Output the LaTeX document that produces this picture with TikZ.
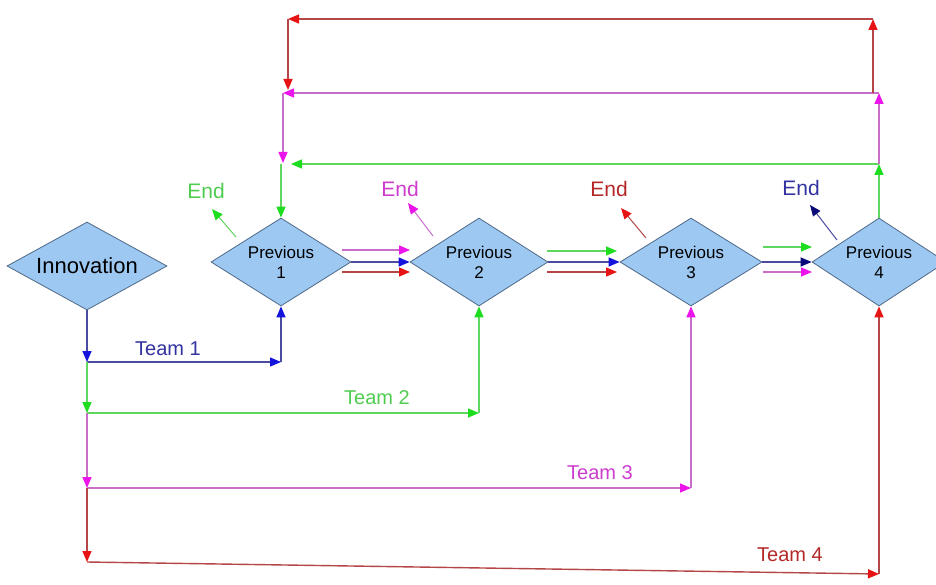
\documentclass[tikz,border=0pt]{standalone}
\usepackage{fontspec}
\setmainfont{Liberation Sans}
\usetikzlibrary{shapes.geometric,arrows.meta,calc}
\definecolor{diafill}{RGB}{156,200,242}
\definecolor{diaborder}{RGB}{80,105,135}
\definecolor{lgreen}{RGB}{95,215,95}
\definecolor{tgreen}{RGB}{30,220,30}
\definecolor{xgreen}{RGB}{80,205,80}
\definecolor{lmag}{RGB}{200,110,200}
\definecolor{tmag}{RGB}{235,20,235}
\definecolor{xmag}{RGB}{205,60,205}
\definecolor{lred}{RGB}{180,70,70}
\definecolor{tred}{RGB}{230,20,20}
\definecolor{xred}{RGB}{180,40,40}
\definecolor{lblue}{RGB}{75,75,160}
\definecolor{tblue}{RGB}{20,20,220}
\definecolor{xblue}{RGB}{50,50,160}
\definecolor{tnavy}{RGB}{10,10,120}
\tikzset{
  dia/.style={diamond, shape aspect=1.6, draw=diaborder, fill=diafill, line width=0.8pt, inner sep=0pt,
    minimum width=140pt, minimum height=88pt, align=center,
    font=\fontsize{17}{20}\selectfont},
  gl/.style={draw=lgreen, line width=1.4pt, -{Triangle[length=11pt,width=9pt,color=tgreen]}},
  ml/.style={draw=lmag, line width=1.4pt, -{Triangle[length=11pt,width=9pt,color=tmag]}},
  rl/.style={draw=lred, line width=1.4pt, -{Triangle[length=11pt,width=9pt,color=tred]}},
  bl/.style={draw=lblue, line width=1.4pt, -{Triangle[length=11pt,width=9pt,color=tblue]}},
  nl/.style={draw=lblue, line width=1.4pt, -{Triangle[length=11pt,width=9pt,color=tnavy]}},
  teamlbl/.style={font=\fontsize{20}{22}\selectfont, inner sep=0pt},
  endlbl/.style={font=\fontsize{21}{23}\selectfont, inner sep=0pt},
}
\begin{document}
\begin{tikzpicture}[x=1pt,y=-1pt]
\useasboundingbox (0,0) rectangle (936,585);
\clip (0,0) rectangle (936,585);
\fill[white] (0,0) rectangle (936,585);

% diamonds
\node[dia, shape aspect=1.8, minimum width=160pt, font=\fontsize{22}{24}\selectfont] (Inn) at (87,266) {Innovation};
\node[dia] (P1) at (281,262) {Previous\\1};
\node[dia, minimum width=138pt] (P2) at (479,262) {Previous\\2};
\node[dia, minimum width=142pt] (P3) at (691,262) {Previous\\3};
\node[dia, minimum width=134pt] (P4) at (879,262) {Previous\\4};

% team labels
\node[teamlbl, text=xblue] (T1) at (168,349) {Team 1};
\node[teamlbl, text=xgreen] (T2) at (377,398) {Team 2};
\node[teamlbl, text=xmag] (T3) at (600,473) {Team 3};
\node[teamlbl, text=xred] (T4) at (790,555) {Team 4};

% end labels
\node[endlbl, text=xgreen] (E1) at (206,191) {End};
\node[endlbl, text=xmag] (E2) at (400,189) {End};
\node[endlbl, text=xred] (E3) at (609,189) {End};
\node[endlbl, text=xblue] (E4) at (801,188) {End};

% junctions
\coordinate (j1) at (87,362);
\coordinate (j2) at (87,413);
\coordinate (j3) at (87,488);
\coordinate (j4) at (87,562);
\coordinate (c1) at (P1.south |- 0,362);
\coordinate (c2) at (P2.south |- 0,413);
\coordinate (c3) at (P3.south |- 0,488);
\coordinate (c4) at (P4.south |- 0,574);

% team flows
\draw[bl] (Inn.south) -- (j1);
\draw[bl] (j1) -- (c1);
\draw[bl] (c1) -- (P1.south);
\draw[gl] (j1) -- (j2);
\draw[gl] (j2) -- (c2);
\draw[gl] (c2) -- (P2.south);
\draw[ml] (j2) -- (j3);
\draw[ml] (j3) -- (c3);
\draw[ml] (c3) -- (P3.south);
\draw[rl] (j3) -- (j4);
\draw[rl] (j4) -- (c4);
\draw[rl] (c4) -- (P4.south);

% feedback loops
\coordinate (g1) at (P4.north |- 0,164);
\coordinate (g2) at (P1.north |- 0,164);
\coordinate (m1) at (P4.north |- 0,93);
\coordinate (m2) at (283,93);
\coordinate (m3) at (283,164);
\coordinate (r0) at (873,93);
\coordinate (r1) at (873,19);
\coordinate (r2) at (288,19);
\coordinate (r3) at (288,93);
\draw[gl] (P4.north) -- (g1);
\draw[gl, shorten >=10pt] (g1) -- (g2);
\draw[gl] (g2) -- (P1.north);
\draw[ml] (g1) -- (m1);
\draw[ml] (m1) -- (m2);
\draw[ml, shorten >=1pt] (m2) -- (m3);
\draw[rl] (r0) -- (r1);
\draw[rl] (r1) -- (r2);
\draw[rl, shorten >=3pt] (r2) -- (r3);

% parallel arrows between diamonds
\coordinate (a1s) at (342,250); \coordinate (a1e) at (410,250);
\coordinate (b1s) at (342,272); \coordinate (b1e) at (410,272);
\draw[ml] (a1s) -- (a1e);
\draw[bl] (P1.east) -- (P2.west);
\draw[rl] (b1s) -- (b1e);
\coordinate (a2s) at (547,251); \coordinate (a2e) at (617,251);
\coordinate (b2s) at (547,272); \coordinate (b2e) at (617,272);
\draw[gl] (a2s) -- (a2e);
\draw[bl] (P2.east) -- (P3.west);
\draw[rl] (b2s) -- (b2e);
\coordinate (a3s) at (763,247); \coordinate (a3e) at (812,247);
\coordinate (b3s) at (763,272); \coordinate (b3e) at (812,272);
\draw[gl] (a3s) -- (a3e);
\draw[nl] (P3.east) -- (P4.west);
\draw[ml] (b3s) -- (b3e);

% end arrows
\coordinate (e1s) at (236,237); \coordinate (e1t) at (212,209);
\coordinate (e2s) at (433,236); \coordinate (e2t) at (408,203);
\coordinate (e3s) at (646,238); \coordinate (e3t) at (621,208);
\coordinate (e4s) at (837,240); \coordinate (e4t) at (810,205);
\draw[gl, line width=1pt] (e1s) -- (e1t);
\draw[ml, line width=1pt] (e2s) -- (e2t);
\draw[rl, line width=1pt] (e3s) -- (e3t);
\draw[nl, line width=1pt] (e4s) -- (e4t);
\end{tikzpicture}
\end{document}
